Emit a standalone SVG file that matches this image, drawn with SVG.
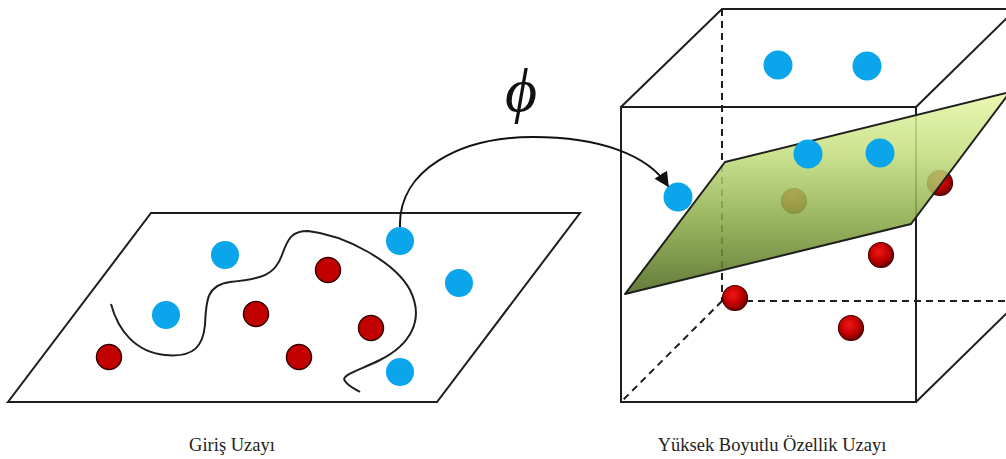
<svg xmlns="http://www.w3.org/2000/svg" width="1006" height="459" viewBox="0 0 1006 459">
<style>
.edge{fill:none;stroke:#1e1e1e;stroke-width:2;stroke-linejoin:miter}
.dash{fill:none;stroke:#1e1e1e;stroke-width:2;stroke-dasharray:7 5}
.blue{fill:#0aa5ea}
.redf{fill:#c20000;stroke:#3a0000;stroke-width:1.5}
.red3{fill:url(#redball);stroke:#4a0000;stroke-width:1.2}
.lbl{font-family:"Liberation Serif","Times New Roman",serif;font-size:18.5px;fill:#222;text-anchor:middle}
</style>
<defs>
<linearGradient id="planeg" x1="0" y1="92" x2="0" y2="294" gradientUnits="userSpaceOnUse">
<stop offset="0" stop-color="#e8f7a8"/>
<stop offset="0.3" stop-color="#c4de7e"/>
<stop offset="0.65" stop-color="#86a744"/>
<stop offset="1" stop-color="#4a661a"/>
</linearGradient>
<radialGradient id="redball" cx="0.42" cy="0.38" r="0.62">
<stop offset="0" stop-color="#f01818"/>
<stop offset="0.6" stop-color="#c00000"/>
<stop offset="1" stop-color="#700000"/>
</radialGradient>
<marker id="arrow" viewBox="0 0 10 10" refX="9" refY="5" markerWidth="15" markerHeight="15" markerUnits="userSpaceOnUse" orient="auto">
<path d="M0,0 L10,5 L0,10 Z" fill="#111"/>
</marker>
</defs>
<rect width="1006" height="459" fill="#fff"/>

<g id="input-space">
<polygon class="edge" points="151,213 580,213 437,402 8,402"/>
<path class="edge" d="M111,304 C118,330 135,352 165,355 C195,358 203,345 205,325 C206,300 207,285 230,282 C262,279 275,275 282,255 C288,238 292,231 308,231 C345,235 395,262 410,290 C425,320 410,345 380,360 C360,370 340,375 345,381 C348,386 355,389 360,392"/>
<circle class="blue" cx="225" cy="255" r="14"/>
<circle class="blue" cx="166" cy="315" r="14"/>
<circle class="blue" cx="400" cy="241" r="14"/>
<circle class="blue" cx="459" cy="283" r="14"/>
<circle class="blue" cx="400" cy="372" r="14"/>
<circle class="redf" cx="109" cy="357" r="12.5"/>
<circle class="redf" cx="328" cy="270" r="12.5"/>
<circle class="redf" cx="256" cy="314" r="12.5"/>
<circle class="redf" cx="371" cy="328" r="12.5"/>
<circle class="redf" cx="299" cy="357" r="12.5"/>
<text class="lbl" x="232" y="451">Giriş Uzayı</text>
</g>

<g id="feature-space">
<line class="dash" x1="722" y1="9" x2="722" y2="301"/>
<line class="dash" x1="722" y1="301" x2="1006" y2="301"/>
<line class="dash" x1="722" y1="301" x2="621" y2="402"/>
<polyline class="edge" points="621,107 722,9 1010,9"/>
<line class="edge" x1="916" y1="107" x2="1008" y2="17"/>
<line class="edge" x1="916" y1="402" x2="1008" y2="312"/>
<rect class="edge" x="621" y="107" width="295" height="295"/>
<circle class="red3" cx="794" cy="201" r="12.5"/>
<circle class="red3" cx="940" cy="183" r="12.5"/>
<polygon points="625,294 725,162 1010,92 911,224" fill="url(#planeg)" fill-opacity="0.86" stroke="#1e1e1e" stroke-width="2" stroke-linejoin="round"/>
<circle class="blue" cx="778" cy="65" r="14.5"/>
<circle class="blue" cx="867" cy="66" r="14.5"/>
<circle class="blue" cx="808" cy="154" r="14.5"/>
<circle class="blue" cx="880" cy="153" r="14.5"/>
<circle class="blue" cx="678" cy="197" r="14.5"/>
<circle class="red3" cx="881" cy="255" r="12.5"/>
<circle class="red3" cx="735" cy="298" r="12.5"/>
<circle class="red3" cx="851" cy="328" r="12.5"/>
<text class="lbl" x="772" y="451">Yüksek Boyutlu Özellik Uzayı</text>
</g>

<g id="connectors">
<path d="M400,227 C398,170 460,137 533,137 C600,137 648,155 668,186" fill="none" stroke="#111" stroke-width="2" marker-end="url(#arrow)"/>
<text x="521" y="111" font-family="Liberation Serif, Times New Roman, serif" font-style="italic" font-size="62" fill="#111" text-anchor="middle">ϕ</text>
</g>
</svg>
